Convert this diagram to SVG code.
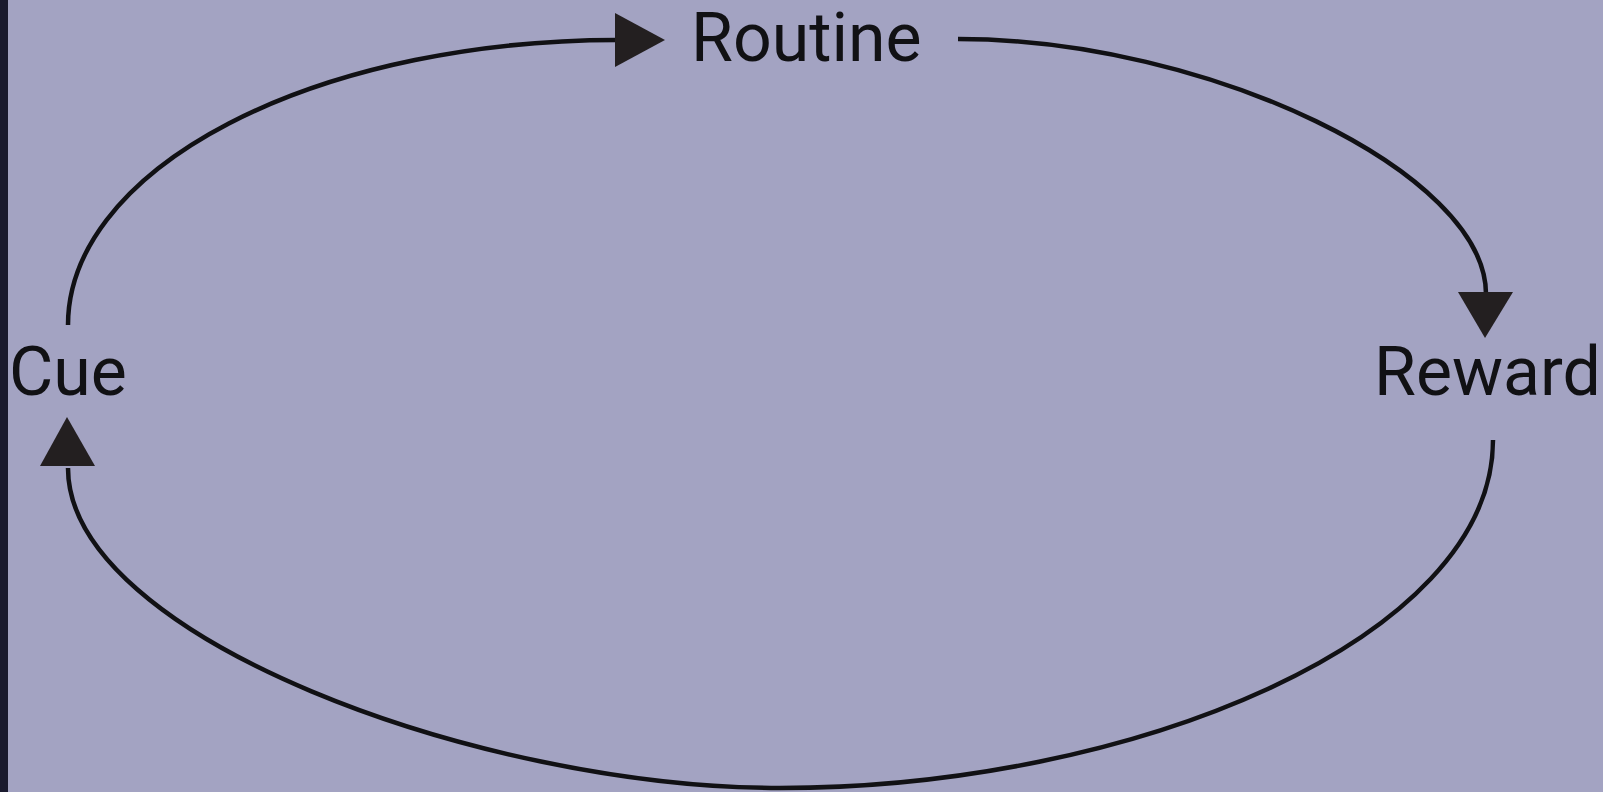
<svg xmlns="http://www.w3.org/2000/svg" width="1603" height="792" viewBox="0 0 1603 792">
<style>
.lbl{font-family:Roboto,"Liberation Sans",sans-serif;font-size:68px;fill:#111114}
.edge{fill:none;stroke:#111114;stroke-width:4.5}
.head{fill:#231f20}
</style>
<rect x="0" y="0" width="1603" height="792" fill="#a3a3c2"/>
<rect x="0" y="0" width="8" height="792" fill="#1a1a2e"/>
<g id="connectors">
<path class="edge" d="M68,325 A549,285 0 0 1 617,40"/>
<polygon class="head" points="615,13 665,40 615,67"/>
<path class="edge" d="M958,39 C1208,39 1486,173 1486,294"/>
<polygon class="head" points="1458,292 1513,292 1485,338"/>
<path class="edge" d="M1493,440 C1493,640 1130,788 780,788 C480,788 68,637 68,468"/>
<polygon class="head" points="40,466 95,466 67,417"/>
</g>
<g id="node-routine"><text class="lbl" x="691" y="61">Routine</text></g>
<g id="node-cue"><text class="lbl" x="9" y="395">Cue</text></g>
<g id="node-reward"><text class="lbl" x="1374" y="395">Reward</text></g>
</svg>
